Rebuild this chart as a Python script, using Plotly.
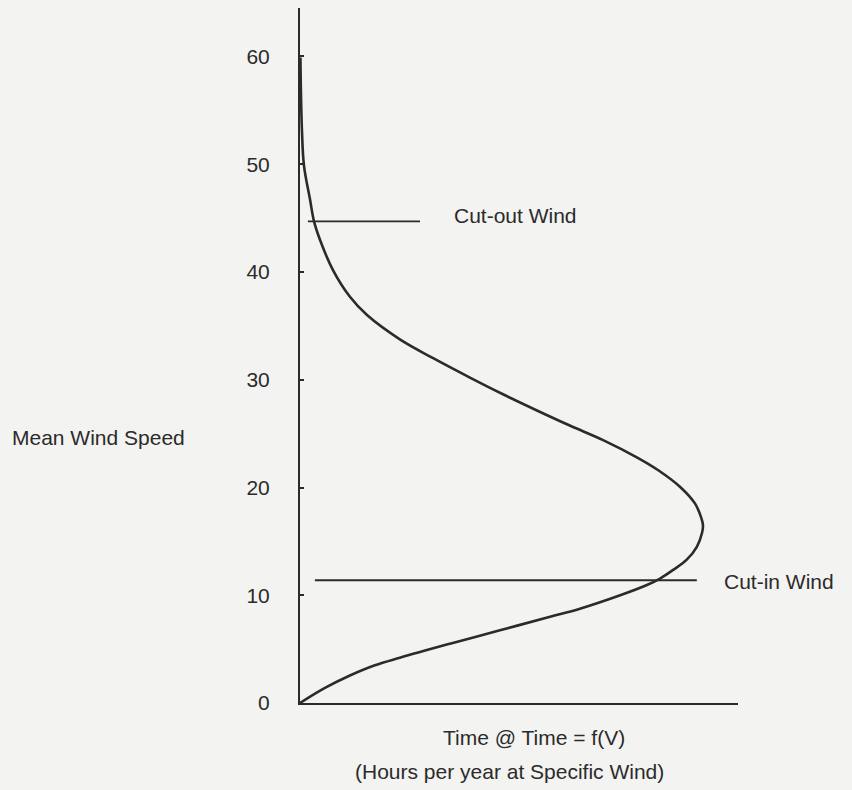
import plotly.graph_objects as go

# Wind speed duration curve: time spent at each mean wind speed
hours = [0.0, 5.7, 11.4, 17.1, 22.8, 34.25, 45.65, 57.1, 63.9, 73.1, 79.2, 82.2,
         85.2, 88.3, 90.6, 91.8, 92.0, 91.6, 90.2, 86.8, 81.8, 76.9, 69.2,
         61.6, 54.1, 46.35, 38.8, 30.4, 22.8, 15.3, 11.4, 7.5, 4.6, 3.2, 2.3,
         0.9, 0.45, 0.2, 0.1]
speed = [0.0, 1.4, 2.55, 3.5, 4.2, 5.5, 6.75, 8.0, 8.75, 10.0, 10.95, 11.55,
         12.35, 13.3, 14.5, 15.8, 16.5, 17.2, 18.5, 20.05, 21.6, 22.8, 24.4,
         25.75, 27.15, 28.65, 30.2, 32.0, 33.75, 36.0, 37.7, 40.2, 42.95, 44.7,
         46.7, 49.9, 53.1, 56.9, 59.9]

# Turbine operating limits
cut_in_speed = 11.4
cut_in_hours = [3.4, 90.6]
cut_out_speed = 44.7
cut_out_hours = [1.8, 27.4]

y_ticks = [0, 10, 20, 30, 40, 50, 60]

ink = "#2b2b2b"
paper = "#f3f3f1"
font = dict(family="Liberation Sans, Arial, sans-serif", size=21, color=ink)

fig = go.Figure()
fig.add_trace(go.Scatter(x=hours, y=speed, mode="lines",
                         line=dict(color=ink, width=2.6, shape="spline", smoothing=1.0),
                         hoverinfo="skip", showlegend=False))
fig.add_trace(go.Scatter(x=cut_out_hours, y=[cut_out_speed] * 2, mode="lines",
                         line=dict(color=ink, width=1.6), showlegend=False))
fig.add_trace(go.Scatter(x=cut_in_hours, y=[cut_in_speed] * 2, mode="lines",
                         line=dict(color=ink, width=2), showlegend=False))

fig.update_layout(
    width=852, height=790,
    margin=dict(l=300, r=114, t=8, b=87),
    paper_bgcolor=paper, plot_bgcolor=paper,
    font=font,
    showlegend=False,
)
fig.update_xaxes(range=[0, 100], showgrid=False, zeroline=False,
                 showticklabels=False, ticks="",
                 showline=True, linecolor=ink, linewidth=2)
fig.update_yaxes(range=[0, 64.5], showgrid=False, zeroline=False,
                 tickvals=y_ticks, ticktext=[str(v) for v in y_ticks],
                 ticks="inside", ticklen=4, tickwidth=2, tickcolor=ink,
                 ticklabelstandoff=24, tickfont=font,
                 showline=True, linecolor=ink, linewidth=2)

fig.add_annotation(text="Cut-out Wind", x=34.7, y=45.2, xref="x", yref="y",
                   xanchor="left", yanchor="middle", showarrow=False, font=font)
fig.add_annotation(text="Cut-in Wind", x=96.3, y=11.3, xref="x", yref="y",
                   xanchor="left", yanchor="middle", showarrow=False, font=font)
fig.add_annotation(text="Mean Wind Speed", x=-0.662, y=24.6, xref="paper", yref="y",
                   xanchor="left", yanchor="middle", showarrow=False, font=font)
fig.add_annotation(text="Time @ Time = f(V)", x=0.534, y=-0.050, xref="paper", yref="paper",
                   xanchor="center", yanchor="middle", showarrow=False, font=font)
fig.add_annotation(text="(Hours per year at Specific Wind)", x=0.479, y=-0.099,
                   xref="paper", yref="paper",
                   xanchor="center", yanchor="middle", showarrow=False, font=font)

fig.write_html("out.html")
